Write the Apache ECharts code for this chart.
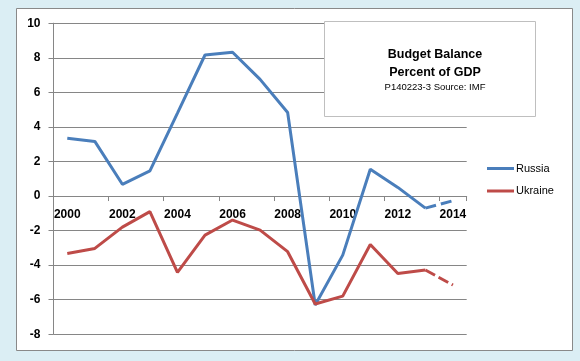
<!DOCTYPE html>
<html>
<head>
<meta charset="utf-8">
<script src="https://cdn.jsdelivr.net/npm/echarts@6/dist/echarts.min.js"></script>
<style>
html,body{margin:0;padding:0;background:#DBEEF4;}
#chart{width:580px;height:361px;}
</style>
</head>
<body>
<div id="chart"></div>
<script>
var years = ['2000','2001','2002','2003','2004','2005','2006','2007','2008','2009','2010','2011','2012','2013','2014'];
var russia = [3.34, 3.16, 0.68, 1.45, 4.8, 8.16, 8.32, 6.75, 4.83, -6.3, -3.42, 1.55, 0.5, -0.7, null];
var russiaForecast = [null, null, null, null, null, null, null, null, null, null, null, null, null, -0.7, -0.27];
var ukraine = [-3.32, -3.03, -1.8, -0.9, -4.42, -2.26, -1.39, -1.97, -3.22, -6.25, -5.79, -2.8, -4.48, -4.28, null];
var ukraineForecast = [null, null, null, null, null, null, null, null, null, null, null, null, null, -4.28, -5.15];
var yTicks = {min: -8, max: 10, interval: 2};

var font = 'Liberation Sans, Arial, sans-serif';
var gridTop = 23.2, gridBottom = 26.7, chartH = 361;
var plotH = chartH - gridTop - gridBottom;
var zeroOffset = -plotH * (0 - yTicks.min) / (yTicks.max - yTicks.min);

var chart = echarts.init(document.getElementById('chart'), null, {renderer: 'canvas'});
chart.setOption({
  backgroundColor: '#DBEEF4',
  animation: false,
  graphic: [
    {type: 'rect', z: -10, shape: {x: 16.5, y: 8.5, width: 556, height: 342},
     style: {fill: '#FFFFFF', stroke: '#898989', lineWidth: 1}},
    {type: 'rect', z: 100, shape: {x: 324.5, y: 21.5, width: 211, height: 95},
     style: {fill: '#FFFFFF', stroke: '#BFBFBF', lineWidth: 1}}
  ],
  title: {
    text: 'Budget Balance\nPercent of GDP',
    subtext: 'P140223-3 Source: IMF',
    left: 430, top: 41, textAlign: 'center', z: 200, itemGap: 0,
    textStyle: {fontFamily: font, fontSize: 12.5, fontWeight: 'bold', color: '#000', lineHeight: 18},
    subtextStyle: {fontFamily: font, fontSize: 9.5, color: '#000'}
  },
  legend: {
    orient: 'vertical', left: 482, top: 157.5,
    data: ['Russia', 'Ukraine'],
    icon: 'rect',
    itemWidth: 27, itemHeight: 3, itemGap: 10.5,
    textStyle: {fontFamily: font, fontSize: 11, lineHeight: 12, color: '#000', padding: [0,0,0,-3]}
  },
  grid: {left: 53.5, right: 113.3, top: gridTop, bottom: gridBottom, containLabel: false},
  xAxis: {
    type: 'category', data: years, boundaryGap: true, position: 'bottom', offset: zeroOffset,
    axisLine: {onZero: false, lineStyle: {color: '#868686', width: 1}},
    axisTick: {show: true, length: 5, lineStyle: {color: '#868686'}},
    axisLabel: {interval: 1, margin: 13, fontFamily: font, fontSize: 12, fontWeight: 'bold', color: '#000'},
    splitLine: {show: false}
  },
  yAxis: {
    type: 'value', min: yTicks.min, max: yTicks.max, interval: yTicks.interval,
    axisLine: {show: true, lineStyle: {color: '#868686', width: 1}},
    axisTick: {show: true, length: 5, lineStyle: {color: '#868686'}},
    axisLabel: {margin: 13, fontFamily: font, fontSize: 12, fontWeight: 'bold', color: '#000'},
    splitLine: {show: true, lineStyle: {color: '#868686', width: 1}}
  },
  series: [
    {name: 'Russia', type: 'line', data: russia, symbol: 'none',
     lineStyle: {color: '#4A7EBB', width: 3}, itemStyle: {color: '#4A7EBB'}},
    {name: 'Ukraine', type: 'line', data: ukraine, symbol: 'none',
     lineStyle: {color: '#BE4B48', width: 3}, itemStyle: {color: '#BE4B48'}},
    {name: 'Russia forecast', type: 'line', data: russiaForecast, symbol: 'none',
     lineStyle: {color: '#4A7EBB', width: 3, type: [11, 5]}},
    {name: 'Ukraine forecast', type: 'line', data: ukraineForecast, symbol: 'none',
     lineStyle: {color: '#BE4B48', width: 3, type: [11, 4]}}
  ]
});
</script>
</body>
</html>
